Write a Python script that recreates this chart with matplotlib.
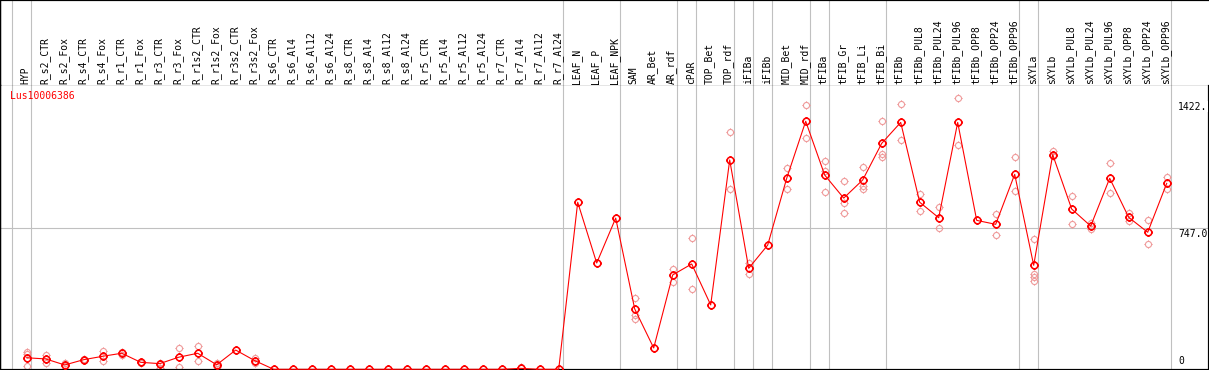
import matplotlib
matplotlib.use("Agg")
import matplotlib.pyplot as plt
import matplotlib.transforms as mtransforms
from matplotlib.path import Path
import numpy as np

# ---------------- data ----------------
groups = [
    ["HYP"],
    ["R_s2_CTR", "R_s2_Fox", "R_s4_CTR", "R_s4_Fox", "R_r1_CTR", "R_r1_Fox",
     "R_r3_CTR", "R_r3_Fox", "R_r1s2_CTR", "R_r1s2_Fox", "R_r3s2_CTR", "R_r3s2_Fox",
     "R_s6_CTR", "R_s6_Al4", "R_s6_Al12", "R_s6_Al24", "R_s8_CTR", "R_s8_Al4",
     "R_s8_Al12", "R_s8_Al24", "R_r5_CTR", "R_r5_Al4", "R_r5_Al12", "R_r5_Al24",
     "R_r7_CTR", "R_r7_Al4", "R_r7_Al12", "R_r7_Al24"],
    ["LEAF_N", "LEAF_P", "LEAF_NPK"],
    ["SAM", "AR_Bet", "AR_rdf"],
    ["cPAR"],
    ["TOP_Bet", "TOP_rdf"],
    ["iFIBa"],
    ["iFIBb"],
    ["MID_Bet", "MID_rdf"],
    ["tFIBa"],
    ["tFIB_Gr", "tFIB_Li", "tFIB_Bi"],
    ["tFIBb", "tFIBb_PUL8", "tFIBb_PUL24", "tFIBb_PUL96", "tFIBb_OPP8",
     "tFIBb_OPP24", "tFIBb_OPP96"],
    ["sXYLa"],
    ["sXYLb", "sXYLb_PUL8", "sXYLb_PUL24", "sXYLb_PUL96", "sXYLb_OPP8",
     "sXYLb_OPP24", "sXYLb_OPP96"],
]
categories = [c for g in groups for c in g]

means = [61, 55, 23, 51, 69, 85, 37, 30, 64, 85, 24, 102, 46,
         0, 0, 0, 0, 0, 0, 0, 0, 0, 0, 0, 0, 0, 5, 0, 0,
         885, 563, 801, 320, 113, 500, 558, 341, 1109, 535, 658,
         1012, 1314, 1029, 907, 1003, 1197,
         1308, 885, 803, 1308, 789, 768, 1033,
         551, 1137, 849, 759, 1012, 805, 726, 985]

replicates = [
    [90, 79, 16], [74, 32], [35, 19], [55, 47], [97, 46], [90, 75], [40, 34],
    [32, 5], [113, 14], [123, 42], [35, 12], [], [60, 32],
    [], [], [], [], [], [], [], [], [], [], [], [], [], [10], [], [],
    [], [], [], [376, 288, 268], [], [531, 464], [694, 424], [], [1256, 957],
    [562, 507], [], [1065, 954], [1399, 1224], [1104, 1052, 938],
    [996, 883, 826], [1070, 973, 954], [1314, 1141, 1127],
    [1404, 1213], [929, 837], [858, 747], [1436, 1187], [], [821, 710],
    [1123, 943], [689, 503, 487, 469], [1157, 1130], [920, 768], [774, 742],
    [1093, 932], [826, 786], [789, 664], [1019, 957],
]

series_name = "Lus10006386"
ytick_values = [0, 747.0, 1422.0]
ytick_labels = ["0", "747.0", "1422."]
gridline_value = 747.0

# ---------------- layout ----------------
W, H, DPI = 1209, 370, 100
fig = plt.figure(figsize=(W / DPI, H / DPI), dpi=DPI)
px = 72.0 / DPI  # one pixel in points

header_h = 86
x0_px, step_px = 26.7, 19.0
xlo = -x0_px / step_px
xhi = (W - x0_px) / step_px

y0_px, scale = 369.3, 0.18876  # pixel row of value 0 and px per unit
plot_top = header_h
ylo = (y0_px - H) / scale
yhi = (y0_px - plot_top) / scale

hx = fig.add_axes([0, (H - header_h) / H, 1, header_h / H])
ax = fig.add_axes([0, 0, 1, (H - header_h) / H])

mono = "DejaVu Sans Mono"
grid_col = "#c0c0c0"

# header axes
hx.set_xlim(xlo, xhi)
hx.set_ylim(header_h, 0)
hx.set_xticks([])
hx.set_yticks([])
for s in ["top", "bottom", "left"]:
    hx.spines[s].set_color("black")
hx.spines["top"].set_linewidth(2.2 * px)
hx.spines["bottom"].set_linewidth(1.2 * px)
hx.spines["left"].set_linewidth(2.5 * px)
hx.spines["right"].set_visible(False)

x = np.arange(len(categories))
for i, lab in enumerate(categories):
    hx.text(i - 0.05, header_h - 2, lab, rotation=90, ha="center", va="bottom",
            fontsize=7, family=mono, color="black")

# group separators
bounds = [-1]
n = 0
for g in groups:
    n += len(g)
    bounds.append(n - 1)
for b in bounds:
    xb = b + 4.0 / step_px
    hx.axvline(xb, color=grid_col, lw=1.1 * px, zorder=0)
    ax.axvline(xb, color=grid_col, lw=1.1 * px, zorder=0)

# plot axes
ax.set_xlim(xlo, xhi)
ax.set_ylim(ylo, yhi)
ax.set_xticks([])
ax.set_yticks([])
ax.spines["top"].set_visible(False)
ax.spines["left"].set_linewidth(2.5 * px)
ax.spines["bottom"].set_linewidth(3.2 * px)
ax.spines["right"].set_linewidth(2.2 * px)

ax.axhline(gridline_value, color=grid_col, lw=1.1 * px, zorder=0)

# custom marker: circle with small ticks
circ = Path.unit_circle()
tv, tc = [], []
for ang in [0, 90, 180, 270]:
    c, s = np.cos(np.radians(ang)), np.sin(np.radians(ang))
    tv += [(c * 1.0, s * 1.0), (c * 1.35, s * 1.35)]
    tc += [Path.MOVETO, Path.LINETO]
sun = Path.make_compound_path(circ, Path(tv, tc))

rep_x = [i for i, r in enumerate(replicates) for _ in r]
rep_y = [v for r in replicates for v in r]
ax.plot(rep_x, rep_y, linestyle="none", marker=sun, markersize=8.2 * px,
        markerfacecolor="none", markeredgecolor="#ef9a9a", markeredgewidth=1.1 * px,
        zorder=2)
ax.plot(x, means, color="red", lw=1.1 * px, zorder=3)
ax.plot(x, means, linestyle="none", marker=sun, markersize=9.0 * px,
        markerfacecolor="none", markeredgecolor="red", markeredgewidth=1.6 * px,
        zorder=4)

ax.text(10 / W, 1 - 10 / (H - header_h), series_name, transform=ax.transAxes,
        ha="left", va="center", fontsize=7, family=mono, color="red")

blend = mtransforms.blended_transform_factory(ax.transAxes, ax.transData)
for v, lab in zip(ytick_values, ytick_labels):
    va = "bottom" if v == 0 else "top"
    off = 3 / scale if v == 0 else -1 / scale
    ax.text(1178 / W, v + off, lab, transform=blend, ha="left", va=va,
            fontsize=7, family=mono, color="black",
            bbox=dict(facecolor="white", edgecolor="none", pad=0.3))

fig.savefig("out.png", dpi=DPI)
